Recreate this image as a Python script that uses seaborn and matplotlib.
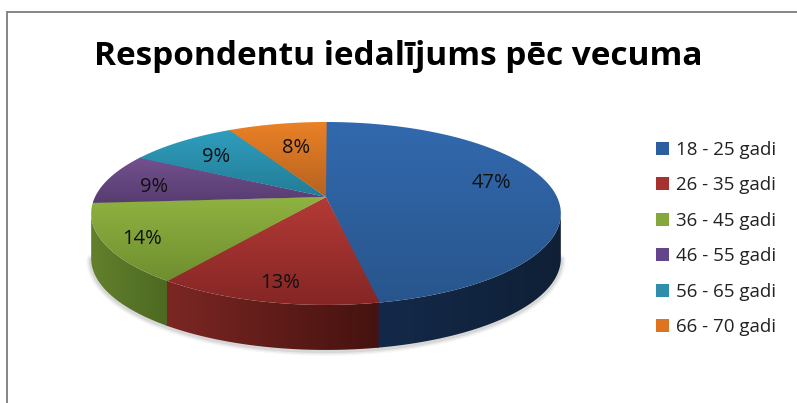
import numpy as np
import matplotlib
matplotlib.use("Agg")
import matplotlib.pyplot as plt
from matplotlib.patches import Polygon, Patch
from matplotlib.colors import LinearSegmentedColormap
import seaborn as sns

categories = ["18 - 25 gadi", "26 - 35 gadi", "36 - 45 gadi", "46 - 55 gadi", "56 - 65 gadi", "66 - 70 gadi"]
shares = [47, 13, 14, 9, 9, 8]
title = "Respondentu iedalījums pēc vecuma"

top_light = ["#3269ae", "#b43a36", "#8fb340", "#73518f", "#2f9ebe", "#ea8126"]
top_dark = ["#28558c", "#842625", "#6f8e30", "#573c70", "#237c96", "#b56220"]
side_left = ["#14294a", "#7c2724", "#62802c", "#4a3360", "#1c6278", "#9a5420"]
side_right = ["#0f2036", "#45120f", "#4d6a22", "#3c2850", "#174f60", "#7d4418"]
swatches = ["#2c5fa0", "#a8302e", "#85a83c", "#634589", "#2f8eac", "#dc7420"]

# Perspective of the tilted disc, in image pixels
CX, CY, RX, RY, PERSP, DEPTH = 326, 197, 231, 88.5, 0.18, 45
RIM_FROM, RIM_TO = 190.4, 349.6
label_pos = [(491, 183), (280, 283), (142, 239), (154, 187), (216, 157), (296, 148)]


def project(theta_deg):
    t = np.radians(theta_deg)
    w = 1 + PERSP * np.sin(t)
    return CX + RX * np.cos(t) / w, CY - RY * np.sin(t) / w


sns.set_theme(style="white")
plt.rcParams["font.family"] = ["Open Sans", "DejaVu Sans"]

fig = plt.figure(figsize=(7.97, 4.03), dpi=100, facecolor="white")
ax = fig.add_axes([7 / 797, 0, 790 / 797, 391 / 403])
wedges, _, pct_texts = ax.pie(
    shares, startangle=90, counterclock=False, autopct="%.0f%%",
    textprops=dict(fontsize=14.5, color="#111111", ha="center", va="center", zorder=10),
)
for w in wedges:
    w.set_visible(False)
ax.set_aspect("auto")
ax.set_frame_on(True)
ax.set_xlim(7, 797)
ax.set_ylim(403, 12)
ax.set_xticks([])
ax.set_yticks([])


def gradient(poly, c0, c1, horizontal, zorder):
    xy = poly.get_xy()
    cmap = LinearSegmentedColormap.from_list("g", [c0, c1])
    g = np.linspace(0, 1, 256)
    g = g.reshape(1, -1) if horizontal else g.reshape(-1, 1)
    im = ax.imshow(g, cmap=cmap, aspect="auto", origin="upper", interpolation="bilinear",
                   extent=(xy[:, 0].min(), xy[:, 0].max(), xy[:, 1].max(), xy[:, 1].min()),
                   zorder=zorder)
    ax.add_patch(poly)
    poly.set(facecolor="none", edgecolor="none")
    im.set_clip_path(poly)


# soft shadow under the rim
ta = np.linspace(RIM_FROM, RIM_TO, 300)
sx, sy = project(ta)
for lw, a in [(7, 0.05), (5, 0.08), (3, 0.12)]:
    ax.plot(sx, sy + DEPTH + 1, color="#555555", lw=lw, alpha=a, zorder=1, solid_capstyle="round")

# rim of the disc
for i, w in enumerate(wedges):
    a, b = w.theta1 % 360, w.theta2 % 360
    if b <= a:
        b += 360
    lo, hi = max(a, RIM_FROM), min(b, RIM_TO)
    if hi > lo:
        th = np.linspace(lo - 0.4, hi, 200)
        x, y = project(th)
        pts = np.r_[np.c_[x, y], np.c_[x, y + DEPTH][::-1]]
        gradient(Polygon(pts, closed=True), side_left[i], side_right[i], True, 2 + i * 0.01)

# top faces
for i, w in enumerate(wedges):
    th = np.linspace(w.theta1 - 0.2, w.theta2 + 0.2, 300)
    x, y = project(th)
    pts = np.r_[[[CX, CY]], np.c_[x, y]]
    gradient(Polygon(pts, closed=True), top_light[i], top_dark[i], False, 3 + i * 0.01)

for t, p in zip(pct_texts, label_pos):
    t.set_position(p)

ax.set_xlim(7, 797)
ax.set_ylim(403, 12)

for side in ("right", "bottom"):
    ax.spines[side].set_visible(False)
for side in ("left", "top"):
    ax.spines[side].set_visible(True)
    ax.spines[side].set_color("#868686")
    ax.spines[side].set_linewidth(1.4)

ax.text(398, 57, title, fontsize=24, fontweight="bold", color="black", ha="center", va="center")

handles = [Patch(facecolor=c, edgecolor="none") for c in swatches]
ax.legend(handles, categories, loc="upper left", bbox_to_anchor=(656, 141),
          bbox_transform=ax.transData, frameon=False, borderpad=0, borderaxespad=0,
          fontsize=13.5, handlelength=0.7, handleheight=0.7, handletextpad=0.38,
          labelspacing=0.93, labelcolor="#222222")

fig.savefig("out.png", dpi=100, facecolor="white")
